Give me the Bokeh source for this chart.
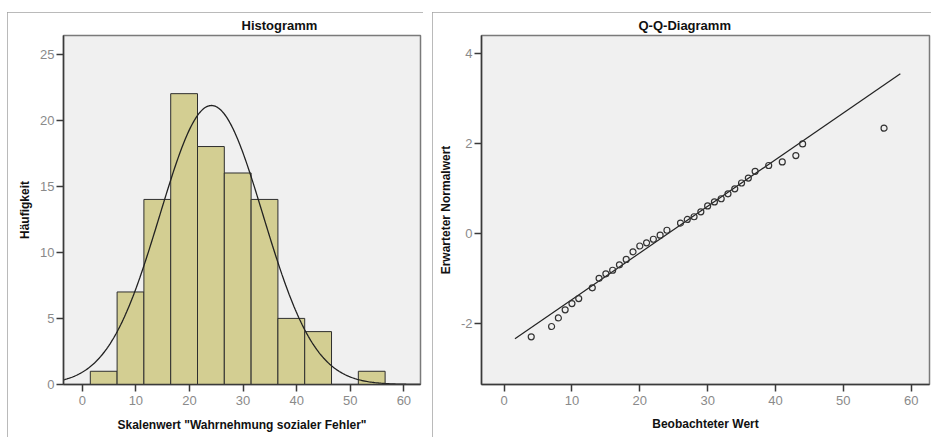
import numpy as np
from bokeh.plotting import figure
from bokeh.layouts import row, column
from bokeh.models import Spacer, Title, Range1d, FixedTicker, PrintfTickFormatter
from bokeh.embed import file_html
from bokeh.resources import INLINE

# ---------------- data ----------------
bin_left = [1.5, 6.5, 11.5, 16.5, 21.5, 26.5, 31.5, 36.5, 41.5, 46.5, 51.5]
bin_right = [6.5, 11.5, 16.5, 21.5, 26.5, 31.5, 36.5, 41.5, 46.5, 51.5, 56.5]
counts = [1, 7, 14, 22, 18, 16, 14, 5, 4, 0, 1]

fit_mean = 24.1
fit_sd = 9.64
n_total = 102
bin_width = 5

qq_observed = [4, 7, 8, 9, 10, 11, 13, 14, 15, 16, 17, 18, 19, 20, 21, 22, 23, 24,
               26, 27, 28, 29, 30, 31, 32, 33, 34, 35, 36, 37, 39, 41, 43, 44, 56]
qq_expected = [-2.29, -2.06, -1.87, -1.69, -1.55, -1.44, -1.20, -0.99, -0.89, -0.81,
               -0.69, -0.57, -0.40, -0.27, -0.20, -0.12, -0.03, 0.08, 0.24, 0.32,
               0.38, 0.49, 0.62, 0.71, 0.78, 0.89, 1.00, 1.13, 1.24, 1.39, 1.52,
               1.60, 1.74, 2.00, 2.35]
qq_line_x = [1.6, 58.4]

hist_xticks = [0, 10, 20, 30, 40, 50, 60]
hist_yticks = [0, 5, 10, 15, 20, 25]
qq_xticks = [0, 10, 20, 30, 40, 50, 60]
qq_yticks = [-2, 0, 2, 4]

FONT = "Liberation Sans"
FRAME_STYLE = {"outline": "2px solid #a3a3a3", "outline-offset": "-2px"}


def style_axes(p, xlabel_standoff):
    for ax in (p.xaxis[0], p.yaxis[0]):
        ax.axis_line_color = "#3a3a3a"
        ax.axis_line_width = 1.5
        ax.major_tick_line_color = "#3a3a3a"
        ax.major_tick_line_width = 1.5
        ax.major_tick_in = 0
        ax.major_tick_out = 7
        ax.minor_tick_line_color = None
        ax.major_label_text_font = FONT
        ax.major_label_text_font_size = "13px"
        ax.major_label_text_color = "#8a8a8a"
        ax.axis_label_text_font = FONT
        ax.axis_label_text_font_style = "bold"
        ax.axis_label_text_font_size = "12px"
        ax.axis_label_text_color = "#111111"
        ax.formatter = PrintfTickFormatter(format="%d")
    p.xaxis.major_label_standoff = 4
    p.xaxis.axis_label_standoff = xlabel_standoff
    p.yaxis.major_label_standoff = 2
    p.xgrid.visible = False
    p.ygrid.visible = False
    p.background_fill_color = "#f0f0f0"
    p.border_fill_color = "white"
    p.outline_line_color = "#7a7a7a"
    p.outline_line_width = 1.5


# ---------------- histogram ----------------
p1 = figure(width=416, height=425, output_backend="svg", toolbar_location=None,
            x_range=Range1d(-3.5, 63.1), y_range=Range1d(0, 26.4),
            min_border_left=56, min_border_right=3, min_border_top=23,
            min_border_bottom=50)
p1.title = Title(text="Histogramm", align="left", offset=178, standoff=6,
                 text_font=FONT, text_font_style="bold", text_font_size="13px",
                 text_color="#111111")
p1.quad(left=bin_left, right=bin_right, bottom=0, top=counts,
        fill_color="#d3ce92", line_color="#2e2e2e", line_width=1)
cx = np.linspace(-3.5, 63.1, 300)
cy = n_total * bin_width / (fit_sd * np.sqrt(2 * np.pi)) * np.exp(-0.5 * ((cx - fit_mean) / fit_sd) ** 2)
p1.line(cx, cy, line_color="#222222", line_width=1.3)
p1.xaxis.axis_label = "Skalenwert \"Wahrnehmung sozialer Fehler\""
p1.yaxis.axis_label = "Häufigkeit"
p1.xaxis.ticker = FixedTicker(ticks=hist_xticks)
p1.yaxis.ticker = FixedTicker(ticks=hist_yticks)
style_axes(p1, 10)
p1.styles = FRAME_STYLE

# ---------------- Q-Q plot ----------------
p2 = figure(width=499, height=425, output_backend="svg", toolbar_location=None,
            x_range=Range1d(-3.33, 62.7), y_range=Range1d(-3.35, 4.41),
            min_border_left=49, min_border_right=2, min_border_top=23,
            min_border_bottom=53)
p2.title = Title(text="Q-Q-Diagramm", align="left", offset=157, standoff=6,
                 text_font=FONT, text_font_style="bold", text_font_size="13px",
                 text_color="#111111")
lx = np.array(qq_line_x)
p2.line(lx, (lx - fit_mean) / fit_sd, line_color="#222222", line_width=1.2)
p2.scatter(qq_observed, qq_expected, marker="circle", size=6, fill_color=None,
           line_color="#333333", line_width=1.2)
p2.xaxis.axis_label = "Beobachteter Wert"
p2.yaxis.axis_label = "Erwarteter Normalwert"
p2.xaxis.ticker = FixedTicker(ticks=qq_xticks)
p2.yaxis.ticker = FixedTicker(ticks=qq_yticks)
style_axes(p2, 9)
p2.styles = FRAME_STYLE

layout = column(Spacer(height=12), row(Spacer(width=7), p1, Spacer(width=9), p2))
open("out.html", "w").write(file_html(layout, INLINE))
